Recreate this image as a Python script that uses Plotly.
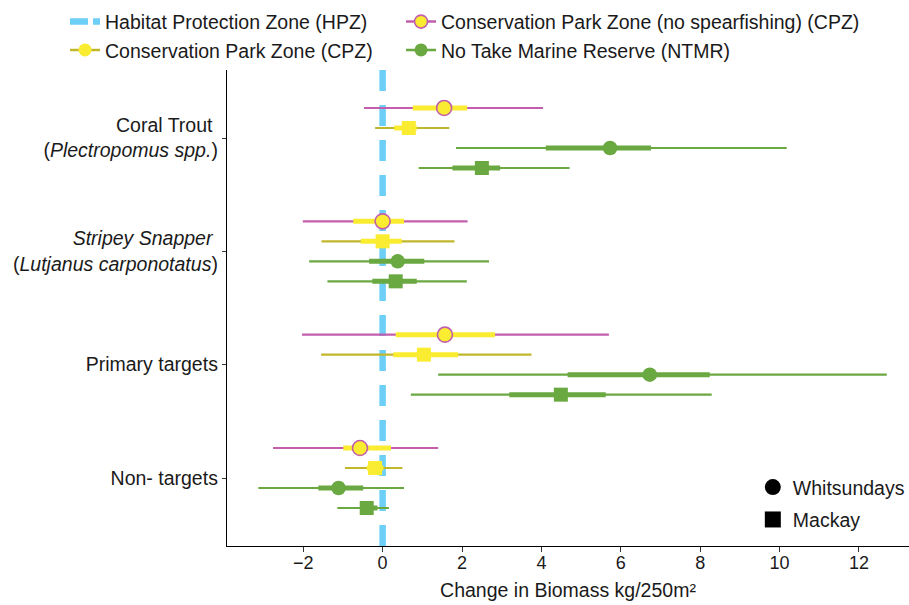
import plotly.graph_objects as go

# ---------------- data ----------------
group_labels = [
    "Coral Trout <br>(<i>Plectropomus spp.</i>)",
    "<i>Stripey Snapper</i> <br>(<i>Lutjanus carponotatus</i>)",
    "Primary targets",
    "Non- targets",
]
group_pos = [4, 3, 2, 1]

# Conservation Park Zone (no spearfishing) - Whitsundays
cpzns_est = [1.55, 0.00, 1.57, -0.57]
cpzns_in_lo = [0.76, -0.74, 0.33, -0.99]
cpzns_in_hi = [2.13, 0.54, 2.83, 0.21]
cpzns_out_lo = [-0.47, -2.01, -2.03, -2.76]
cpzns_out_hi = [4.04, 2.14, 5.70, 1.40]

# Conservation Park Zone - Mackay
cpz_est = [0.66, 0.00, 1.04, -0.19]
cpz_in_lo = [0.29, -0.55, 0.27, -0.40]
cpz_in_hi = [0.86, 0.48, 1.90, 0.02]
cpz_out_lo = [-0.19, -1.54, -1.55, -0.95]
cpz_out_hi = [1.68, 1.81, 3.75, 0.50]

# No Take Marine Reserve - Whitsundays
ntmrw_est = [5.73, 0.38, 6.73, -1.11]
ntmrw_in_lo = [4.11, -0.34, 4.66, -1.62]
ntmrw_in_hi = [6.76, 1.05, 8.24, -0.49]
ntmrw_out_lo = [1.85, -1.85, 1.40, -3.13]
ntmrw_out_hi = [10.18, 2.68, 12.70, 0.54]

# No Take Marine Reserve - Mackay
ntmrm_est = [2.50, 0.33, 4.49, -0.40]
ntmrm_in_lo = [1.76, -0.26, 3.19, -0.57]
ntmrm_in_hi = [2.96, 0.86, 5.62, -0.13]
ntmrm_out_lo = [0.91, -1.39, 0.71, -1.14]
ntmrm_out_hi = [4.71, 2.12, 8.29, 0.16]

hpz_x = 0
x_ticks = [-2, 0, 2, 4, 6, 8, 10, 12]

# ---------------- styling ----------------
MAGENTA = "#C25EAD"
YELLOW = "#F9EC31"
OLIVE = "#C2B72B"
GREEN = "#6AA841"
BLUE = "#6DCFF6"
FONT = "Liberation Sans, Arial, Helvetica, sans-serif"
TXT = "#1a1a1a"

Y_RANGE = [0.4, 4.6]
X_RANGE = [-3.92, 13.26]
DODGE = 0.1765  # vertical spacing between rows inside a group

series = [
    dict(name="Conservation Park Zone (no spearfishing) (CPZ)", slot=0,
         est=cpzns_est, ilo=cpzns_in_lo, ihi=cpzns_in_hi, olo=cpzns_out_lo, ohi=cpzns_out_hi,
         thin=MAGENTA, thick=YELLOW, symbol="circle", fill=YELLOW, edge=MAGENTA, ew=1.6, size=15),
    dict(name="Conservation Park Zone (CPZ)", slot=1,
         est=cpz_est, ilo=cpz_in_lo, ihi=cpz_in_hi, olo=cpz_out_lo, ohi=cpz_out_hi,
         thin=OLIVE, thick=YELLOW, symbol="square", fill=YELLOW, edge=YELLOW, ew=0, size=14),
    dict(name="No Take Marine Reserve (NTMR)", slot=2,
         est=ntmrw_est, ilo=ntmrw_in_lo, ihi=ntmrw_in_hi, olo=ntmrw_out_lo, ohi=ntmrw_out_hi,
         thin=GREEN, thick=GREEN, symbol="circle", fill=GREEN, edge=GREEN, ew=0, size=14.5),
    dict(name="No Take Marine Reserve (NTMR)", slot=3,
         est=ntmrm_est, ilo=ntmrm_in_lo, ihi=ntmrm_in_hi, olo=ntmrm_out_lo, ohi=ntmrm_out_hi,
         thin=GREEN, thick=GREEN, symbol="square", fill=GREEN, edge=GREEN, ew=0, size=14),
]


def row_y(slot):
    off = (1.5 - slot) * DODGE
    return [g + off for g in group_pos]


def segments(lo, hi, ys):
    xs, yy = [], []
    for a, b, y in zip(lo, hi, ys):
        xs += [a, b, None]
        yy += [y, y, None]
    return xs, yy


fig = go.Figure()

# HPZ reference line (drawn first, behind everything)
fig.add_trace(go.Scatter(
    x=[hpz_x, hpz_x], y=[Y_RANGE[0], Y_RANGE[1]], mode="lines",
    line=dict(color=BLUE, width=6.5, dash="21px,14px"),
    name="Habitat Protection Zone (HPZ)", showlegend=False, hoverinfo="skip",
))
# its legend key (shorter dashes, like the reference key)
fig.add_trace(go.Scatter(
    x=[None], y=[None], mode="lines",
    line=dict(color=BLUE, width=6.5, dash="18px,5px"),
    name="Habitat Protection Zone (HPZ)", showlegend=True,
    legend="legend", legendwidth=291,
))

# legend entries for zones: (name, line colour, fill, edge, edge width, legend id, width)
legend_entries = [
    ("Conservation Park Zone (no spearfishing) (CPZ)", MAGENTA, YELLOW, MAGENTA, 1.6, "legend", None),
    ("Conservation Park Zone (CPZ)", OLIVE, YELLOW, YELLOW, 0, "legend3", 291),
    ("No Take Marine Reserve (NTMR)", GREEN, GREEN, GREEN, 0, "legend3", None),
]
for nm, lc, fc, ec, ew, lg, lw in legend_entries:
    kw = dict(legendwidth=lw) if lw else {}
    fig.add_trace(go.Scatter(
        x=[None], y=[None], mode="lines+markers", name=nm, legend=lg,
        line=dict(color=lc, width=2.5),
        marker=dict(symbol="circle", size=13, color=fc, line=dict(color=ec, width=ew)),
        showlegend=True, **kw,
    ))

for s in series:
    ys = row_y(s["slot"])
    tx, ty = segments(s["olo"], s["ohi"], ys)
    fig.add_trace(go.Scatter(x=tx, y=ty, mode="lines", showlegend=False,
                             line=dict(color=s["thin"], width=2.2), hoverinfo="skip"))
    kx, ky = segments(s["ilo"], s["ihi"], ys)
    fig.add_trace(go.Scatter(x=kx, y=ky, mode="lines", showlegend=False,
                             line=dict(color=s["thick"], width=5), hoverinfo="skip"))
    fig.add_trace(go.Scatter(
        x=s["est"], y=ys, mode="markers", showlegend=False, name=s["name"],
        marker=dict(symbol=s["symbol"], size=s["size"], color=s["fill"],
                    line=dict(color=s["edge"], width=s["ew"])),
    ))

# region legend (shape)
for nm, sym in [("Whitsundays", "circle"), ("Mackay", "square")]:
    fig.add_trace(go.Scatter(
        x=[None], y=[None], mode="markers", name=nm, legend="legend2",
        legendgroup=nm,
        marker=dict(symbol=sym, size=18, color="black"), showlegend=True,
    ))

top_legend = dict(
    orientation="h", x=-0.2375, xanchor="left", yanchor="top",
    font=dict(family=FONT, size=19.5, color=TXT),
    bgcolor="rgba(0,0,0,0)", borderwidth=0, traceorder="normal",
)

fig.update_layout(
    width=909, height=605,
    margin=dict(l=227, r=0, t=70, b=59, autoexpand=False),
    paper_bgcolor="white", plot_bgcolor="white",
    font=dict(family=FONT, size=19.5, color=TXT),
    showlegend=True,
    legend=dict(top_legend, y=1.142),
    legend3=dict(top_legend, y=1.0824),
    legend2=dict(
        orientation="v", x=0.771, xanchor="left", y=0.164, yanchor="top",
        font=dict(family=FONT, size=19.5, color=TXT),
        bgcolor="rgba(0,0,0,0)", borderwidth=0, tracegroupgap=4,
    ),
    xaxis=dict(
        range=X_RANGE, tickvals=x_ticks, ticks="outside", ticklen=5, tickwidth=1.3,
        tickcolor="#333333", showline=True, linecolor="black", linewidth=1.4,
        showgrid=False, zeroline=False, tickfont=dict(size=18, color=TXT),
        ticklabelstandoff=-5,
        title=dict(text="Change in Biomass kg/250m²", font=dict(size=19.5, color=TXT), standoff=11),
        automargin=False,
    ),
    yaxis=dict(
        range=Y_RANGE, tickvals=group_pos, ticktext=group_labels, ticks="outside",
        ticklen=4, tickwidth=1.3, tickcolor="#333333", showline=True, linecolor="black",
        linewidth=1.4, showgrid=False, zeroline=False, tickfont=dict(size=19.5, color=TXT),
        automargin=False,
    ),
)

fig.write_html("out.html")
